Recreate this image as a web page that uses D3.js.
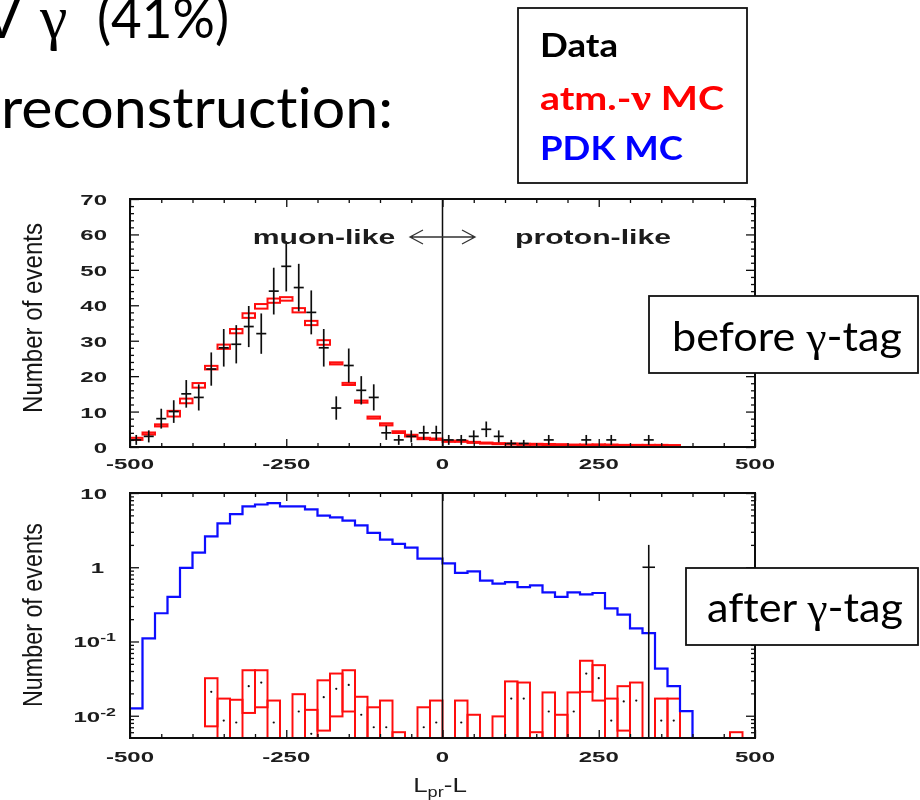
<!DOCTYPE html>
<html>
<head>
<meta charset="utf-8">
<script src="https://cdn.jsdelivr.net/npm/d3@7"></script>
<style>
  html, body { margin: 0; padding: 0; background: #fff; }
  svg { display: block; }
  text { font-variant-ligatures: none; font-kerning: normal; }
</style>
</head>
<body>
<svg id="chart" width="920" height="800"></svg>
<script>
// ---- bins: 20-unit wide, centres from -490 to 490 ----
const binCenters = [-490,-470,-450,-430,-410,-390,-370,-350,-330,-310,-290,-270,-250,-230,-210,-190,-170,-150,-130,-110,-90,-70,-50,-30,-10,
                    10,30,50,70,90,110,130,150,170,190,210,230,250,270,290,310,330,350,370,390,410,430,450,470,490];
const binWidth = 20;

// ---- upper panel (before gamma-tag) ----
const topData = [2,3,8,10,15,14,22,28,29,34,32,44,51,45,38,28,11,23,16,14,4,2,3,4,4,
                 2,2,3,5,3,1,1,0,2,0,0,2,0,2,0,0,2,0,0,0,0,0,0,0,0];
const topDataErr = [1.4,1.7,2.8,3.2,3.9,3.7,4.7,5.3,5.4,5.8,5.7,6.6,7.1,6.7,6.2,5.3,3.3,4.8,4.0,3.7,2.0,1.4,1.7,2.0,2.0,
                    1.4,1.4,1.7,2.2,1.7,1.0,1.0,0,1.4,0,0,1.4,0,1.4,0,0,1.4,0,0,0,0,0,0,0,0];
const topAtm = [2.3,3.8,6.1,9.4,13.0,17.4,22.4,28.3,32.7,37.1,39.7,41.3,41.8,38.6,35.0,29.5,23.6,17.8,12.8,8.3,6.4,4.2,3.2,2.4,2.2,
                1.6,1.6,1.3,1.1,0.95,0.85,0.75,0.75,0.7,0.65,0.55,0.55,0.6,0.55,0.45,0.45,0.45,0.45,0.4,null,null,null,null,null,null];
const topAtmErr = [0.3,0.3,0.3,0.8,0.65,0.65,0.5,0.6,0.6,0.65,0.65,0.6,0.5,0.6,0.6,0.65,0.3,0.3,0.3,0.3,0.3,0.25,0.25,0.2,0.2,
                   0.15,0.15,0.15,0.15,0.15,0.15,0.15,0.15,0.15,0.15,0.15,0.15,0.15,0.15,0.15,0.15,0.15,0.15,0.15,null,null,null,null,null,null];

// ---- lower panel (after gamma-tag) ----
const botPdk = [0.0126,0.11,0.24,0.40,0.98,1.57,2.6,3.9,5.2,6.6,7.0,7.3,6.6,6.6,6.0,4.95,4.7,4.25,3.67,2.9,2.35,2.06,1.84,1.31,1.31,
                1.13,0.84,0.88,0.66,0.60,0.63,0.54,0.57,0.46,0.40,0.46,0.43,0.45,0.28,0.23,0.15,0.13,0.043,0.025,0.0115,0,0,0,0,0];
const botAtmMid = [null,null,null,null,null,null,0.021,0.0086,0.0081,0.025,0.028,0.0081,null,0.0114,0.0057,0.0178,0.023,0.026,0.0103,0.007,0.007,0.003,null,0.007,0.0081,
                   null,0.0081,0.004,null,0.004,0.017,0.017,0.003,0.0114,0.004,0.0114,0.037,0.032,0.0086,0.0156,0.016,null,0.0086,0.0086,null,null,null,null,0.003,null];
const botAtmLo  = [null,null,null,null,null,null,0.0072,0,0,0.0109,0.013,0,null,0,0,0.0063,0.0098,0.0114,0,0,0,0,null,0,0,
                   null,0,0,null,0,0,0,0,0,0,0,0.021,0.016,0,0.0063,0,null,0,0,null,null,null,null,0,null];
const botAtmHi  = [null,null,null,null,null,null,0.032,0.017,0.0164,0.041,0.041,0.016,null,0.0195,0.012,0.030,0.037,0.041,0.018,0.013,0.016,0.006,null,0.013,0.016,
                   null,0.016,0.0103,null,0.0098,0.029,0.028,0.006,0.0206,0.0103,0.0206,0.055,0.048,0.017,0.025,0.028,null,0.017,0.017,null,null,null,null,0.006,null];
const botData    = [0,0,0,0,0,0,0,0,0,0,0,0,0,0,0,0,0,0,0,0,0,0,0,0,0,
                    0,0,0,0,0,0,0,0,0,0,0,0,0,0,0,0,1,0,0,0,0,0,0,0,0];
const botDataErr = [0,0,0,0,0,0,0,0,0,0,0,0,0,0,0,0,0,0,0,0,0,0,0,0,0,
                    0,0,0,0,0,0,0,0,0,0,0,0,0,0,0,0,1,0,0,0,0,0,0,0,0];

// ---- axis ticks and labels ----
const xMajorTicks = [-500,-250,0,250,500];
const xTickLabels = ["-500","-250","0","250","500"];
const topYTicks = [0,10,20,30,40,50,60,70];
const topYLabels = ["0","10","20","30","40","50","60","70"];
const logTicks = [10,1,0.1,0.01];
const logBase = ["10","1","10","10"];
const logExp = ["","","-1","-2"];

// ---- page layout ----
const svg = d3.select("#chart");
svg.append("rect").attr("width",920).attr("height",800).attr("fill","#fff");
const defs = svg.append("defs");
defs.append("filter").attr("id","soft").attr("x","-5%").attr("y","-5%").attr("width","110%").attr("height","110%")
  .append("feGaussianBlur").attr("stdDeviation",0.45);

const PL = 130, PR = 755;
const topBox = {t:199, b:447};
const botBox = {t:493, b:738};

const x = d3.scaleLinear().domain([-500,500]).range([PL,PR]);
const yTop = d3.scaleLinear().domain([0,70]).range([topBox.b, topBox.t]);
const yBot = d3.scaleLog().domain([Math.pow(10,-2.3),10]).range([botBox.b, botBox.t]);

defs.append("clipPath").attr("id","clipTop").append("rect")
  .attr("x",PL).attr("y",topBox.t).attr("width",PR-PL).attr("height",topBox.b-topBox.t);
defs.append("clipPath").attr("id","clipBot").append("rect")
  .attr("x",PL).attr("y",botBox.t).attr("width",PR-PL).attr("height",botBox.b-botBox.t);

const plot = svg.append("g").attr("filter","url(#soft)");
const FONT = "'Liberation Sans', Arial, Helvetica, sans-serif";
const INK = "#1e1e1e";
const WIDE = 1.55;   // horizontal widening of the plot lettering

// horizontally widened label anchored at (px, py)
function wideText(g, px, py, anchor, size, weight) {
  return g.append("g").attr("transform",`translate(${px},${py}) scale(${WIDE},1)`)
    .append("text").attr("x",0).attr("y",0).attr("text-anchor",anchor)
    .attr("font-family",FONT).attr("font-size",size).attr("font-weight",weight).attr("fill",INK);
}

// inner ticks on all four sides of a panel
function frameTicks(g, yScale, box, yMajor, yMinor) {
  const xMinor = d3.range(-450, 500, 50).filter(v => xMajorTicks.indexOf(v) < 0);
  const clean = s => s.call(a => a.select(".domain").remove())
                      .selectAll("line").attr("stroke","#111").attr("stroke-width",1.3);
  clean(g.append("g").attr("transform",`translate(0,${box.b})`)
    .call(d3.axisBottom(x).tickValues(xMajorTicks).tickSize(-8).tickFormat("")));
  clean(g.append("g").attr("transform",`translate(0,${box.b})`)
    .call(d3.axisBottom(x).tickValues(xMinor).tickSize(-4).tickFormat("")));
  clean(g.append("g").attr("transform",`translate(0,${box.t})`)
    .call(d3.axisTop(x).tickValues(xMajorTicks).tickSize(-8).tickFormat("")));
  clean(g.append("g").attr("transform",`translate(0,${box.t})`)
    .call(d3.axisTop(x).tickValues(xMinor).tickSize(-4).tickFormat("")));
  clean(g.append("g").attr("transform",`translate(${PL},0)`)
    .call(d3.axisLeft(yScale).tickValues(yMajor).tickSize(-9).tickFormat("")));
  clean(g.append("g").attr("transform",`translate(${PL},0)`)
    .call(d3.axisLeft(yScale).tickValues(yMinor).tickSize(-4).tickFormat("")));
  clean(g.append("g").attr("transform",`translate(${PR},0)`)
    .call(d3.axisRight(yScale).tickValues(yMajor).tickSize(-9).tickFormat("")));
  clean(g.append("g").attr("transform",`translate(${PR},0)`)
    .call(d3.axisRight(yScale).tickValues(yMinor).tickSize(-4).tickFormat("")));
  g.append("rect").attr("x",PL).attr("y",box.t).attr("width",PR-PL).attr("height",box.b-box.t)
    .attr("fill","none").attr("stroke","#111").attr("stroke-width",2);
}

function xLabels(g, baseline) {
  xMajorTicks.forEach((d,i) => {
    wideText(g, x(d), baseline, "middle", 15.5, "bold").text(xTickLabels[i]);
  });
}

function yTitle(g, cy, len) {
  g.append("text")
    .attr("transform",`translate(42,${cy}) rotate(-90)`)
    .attr("text-anchor","middle").attr("font-family",FONT).attr("font-size",28)
    .attr("fill","#151515")
    .attr("textLength",len).attr("lengthAdjust","spacingAndGlyphs")
    .text("Number of events");
}

// ================= upper panel =================
const gTop = plot.append("g");
const topMarks = gTop.append("g").attr("clip-path","url(#clipTop)");

// atm.-nu MC: boxes spanning the bin with height = MC uncertainty
topMarks.selectAll("rect.atm").data(binCenters.map((c,i)=>({c, v:topAtm[i], e:topAtmErr[i]})).filter(d=>d.v!==null))
  .enter().append("rect").attr("class","atm")
  .attr("x", d => x(d.c - binWidth/2)).attr("width", d => x(d.c + binWidth/2) - x(d.c - binWidth/2))
  .attr("y", d => yTop(d.v + d.e)).attr("height", d => yTop(d.v - d.e) - yTop(d.v + d.e))
  .attr("fill","none").attr("stroke","#ff1010").attr("stroke-width",2);

// separation line at 0
topMarks.append("line").attr("x1",x(0)).attr("x2",x(0)).attr("y1",topBox.t).attr("y2",topBox.b)
  .attr("stroke","#111").attr("stroke-width",1.5);

// data crosses
const topPts = binCenters.map((c,i)=>({c, v:topData[i], e:topDataErr[i]})).filter(d=>d.v>0);
const cross = topMarks.selectAll("g.pt").data(topPts).enter().append("g").attr("class","pt");
cross.append("line").attr("x1",d=>x(d.c)).attr("x2",d=>x(d.c))
  .attr("y1",d=>yTop(d.v - d.e)).attr("y2",d=>yTop(d.v + d.e))
  .attr("stroke","#111").attr("stroke-width",1.7);
cross.append("line").attr("x1",d=>x(d.c-8)).attr("x2",d=>x(d.c+8))
  .attr("y1",d=>yTop(d.v)).attr("y2",d=>yTop(d.v))
  .attr("stroke","#111").attr("stroke-width",1.7);

frameTicks(gTop, yTop, topBox, topYTicks, d3.range(2,70,2).filter(v=>v%10!==0));
xLabels(gTop, 469);
topYTicks.forEach((d,i) => {
  wideText(gTop, 107, yTop(d)+6, "end", 15.5, "bold").text(topYLabels[i]);
});
yTitle(gTop, 318, 190);

// muon-like / proton-like annotation
wideText(gTop, 324, 244, "middle", 19.5, "bold").text("muon-like");
wideText(gTop, 593, 244, "middle", 19.5, "bold").text("proton-like");
const arrowY = 237, aL = x(-52), aR = x(52);
gTop.append("path")
  .attr("d",`M${aL},${arrowY}H${aR}M${aL+13},${arrowY-7}L${aL},${arrowY}L${aL+13},${arrowY+7}M${aR-13},${arrowY-7}L${aR},${arrowY}L${aR-13},${arrowY+7}`)
  .attr("fill","none").attr("stroke","#333").attr("stroke-width",1.3);

// ================= lower panel =================
const gBot = plot.append("g");
const botMarks = gBot.append("g").attr("clip-path","url(#clipBot)");
const yMin = yBot.domain()[0];

// atm.-nu MC boxes (lower edge may fall below the axis)
const atmRows = binCenters.map((c,i)=>({c, m:botAtmMid[i], lo:botAtmLo[i], hi:botAtmHi[i]})).filter(d=>d.hi!==null);
botMarks.selectAll("rect.atm").data(atmRows).enter().append("rect").attr("class","atm")
  .attr("x", d => x(d.c - binWidth/2)).attr("width", d => x(d.c + binWidth/2) - x(d.c - binWidth/2))
  .attr("y", d => yBot(d.hi))
  .attr("height", d => (d.lo > 0 ? yBot(d.lo) : botBox.b + 10) - yBot(d.hi))
  .attr("fill","none").attr("stroke","#ff1010").attr("stroke-width",2);
botMarks.selectAll("circle.mid").data(atmRows.filter(d=>d.m > yMin)).enter().append("circle").attr("class","mid")
  .attr("cx", d => x(d.c)).attr("cy", d => yBot(d.m)).attr("r",1.1).attr("fill","#111");

// PDK MC step histogram
const pdkPts = [];
binCenters.forEach((c,i) => { if (botPdk[i] > 0) pdkPts.push([c - binWidth/2, botPdk[i]]); });
const lastPdk = pdkPts[pdkPts.length-1];
pdkPts.push([lastPdk[0] + binWidth, yMin * 0.5]);
botMarks.append("path").datum(pdkPts)
  .attr("d", d3.line().x(d=>x(d[0])).y(d=>yBot(d[1])).curve(d3.curveStepAfter))
  .attr("fill","none").attr("stroke","#0a0aff").attr("stroke-width",2.2);

// separation line at 0
botMarks.append("line").attr("x1",x(0)).attr("x2",x(0)).attr("y1",botBox.t).attr("y2",botBox.b)
  .attr("stroke","#111").attr("stroke-width",1.5);

// data
const botPts = binCenters.map((c,i)=>({c, v:botData[i], e:botDataErr[i]})).filter(d=>d.v>0);
const bc = botMarks.selectAll("g.pt").data(botPts).enter().append("g").attr("class","pt");
bc.append("line").attr("x1",d=>x(d.c)).attr("x2",d=>x(d.c))
  .attr("y1",d=> d.v - d.e > 0 ? yBot(d.v - d.e) : botBox.b + 10).attr("y2",d=>yBot(d.v + d.e))
  .attr("stroke","#111").attr("stroke-width",1.6);
bc.append("line").attr("x1",d=>x(d.c-10)).attr("x2",d=>x(d.c+10))
  .attr("y1",d=>yBot(d.v)).attr("y2",d=>yBot(d.v))
  .attr("stroke","#111").attr("stroke-width",1.6);

const logMinor = [];
[-3,-2,-1,0].forEach(p => { for (let k=2;k<=9;k++){ const v=k*Math.pow(10,p); if (v>yMin && v<10) logMinor.push(v);} });
frameTicks(gBot, yBot, botBox, logTicks, logMinor);
xLabels(gBot, 762);

logTicks.forEach((v,i) => {
  const t = wideText(gBot, logExp[i] ? 116 : (logBase[i]==="1" ? 104 : 107), yBot(v)+6, "end", 15.5, "bold");
  t.append("tspan").text(logBase[i]);
  if (logExp[i]) t.append("tspan").attr("dy",-6).attr("font-size",11.5).text(logExp[i]);
});
yTitle(gBot, 615, 184);

// x-axis title L_pr - L
const xt = gBot.append("g").attr("transform","translate(440,792) scale(1.3,1)")
  .append("text").attr("x",0).attr("y",0).attr("text-anchor","middle")
  .attr("font-family",FONT).attr("font-size",20).attr("fill",INK);
xt.append("tspan").text("L");
xt.append("tspan").attr("dy",5).attr("font-size",14).text("pr");
xt.append("tspan").attr("dy",-5).text("-L");

// ================= overlay text =================
const LATO = "Lato, 'Open Sans', sans-serif";
const SERIF = "'Liberation Serif', 'DejaVu Serif', serif";
const ov = svg.append("g");

ov.append("text").attr("x",21).attr("y",38).attr("text-anchor","end")
  .attr("font-family",LATO).attr("font-size",56).attr("fill","#000").text("V");
ov.append("text").attr("x",40).attr("y",38)
  .attr("font-family",SERIF).attr("font-size",62).attr("fill","#000").text("γ");
ov.append("text").attr("x",97).attr("y",38)
  .attr("font-family",LATO).attr("font-size",56).attr("fill","#000")
  .attr("textLength",132).attr("lengthAdjust","spacingAndGlyphs").text("(41%)");
ov.append("text").attr("x",1).attr("y",128)
  .attr("font-family",LATO).attr("font-size",57).attr("fill","#000")
  .attr("textLength",392).attr("lengthAdjust","spacingAndGlyphs").text("reconstruction:");

// legend box
ov.append("rect").attr("x",518).attr("y",8).attr("width",229).attr("height",175)
  .attr("fill","#fff").attr("stroke","#111").attr("stroke-width",1.8);
ov.append("text").attr("x",540).attr("y",57).attr("font-family",LATO).attr("font-weight","bold")
  .attr("font-size",32).attr("fill","#000")
  .attr("textLength",78).attr("lengthAdjust","spacingAndGlyphs").text("Data");
const atmT = ov.append("text").attr("x",540).attr("y",110).attr("font-family",LATO).attr("font-weight","bold")
  .attr("font-size",32).attr("fill","#ff0000");
atmT.append("tspan").text("atm.-");
atmT.append("tspan").attr("font-family",SERIF).attr("font-weight","bold").attr("font-size",36).text("ν");
atmT.append("tspan").text(" MC");
atmT.attr("textLength",184).attr("lengthAdjust","spacingAndGlyphs");
ov.append("text").attr("x",540).attr("y",160).attr("font-family",LATO).attr("font-weight","bold")
  .attr("font-size",32).attr("fill","#0000ff")
  .attr("textLength",143).attr("lengthAdjust","spacingAndGlyphs").text("PDK MC");

// panel tags
function tag(bx, by, bw, bh, tx, ty, tw, word) {
  ov.append("rect").attr("x",bx).attr("y",by).attr("width",bw).attr("height",bh)
    .attr("fill","#fff").attr("stroke","#111").attr("stroke-width",1.8);
  const t = ov.append("text").attr("x",tx).attr("y",ty).attr("font-family",LATO)
    .attr("font-size",40).attr("fill","#000");
  t.append("tspan").text(word + " ");
  t.append("tspan").attr("font-family",SERIF).attr("font-size",42).text("γ");
  t.append("tspan").text("-tag");
  t.attr("textLength",tw).attr("lengthAdjust","spacingAndGlyphs");
}
tag(649, 296, 269, 77, 672, 351, 230, "before");
tag(686, 568, 232, 77, 707, 622, 196, "after");
</script>
</body>
</html>
